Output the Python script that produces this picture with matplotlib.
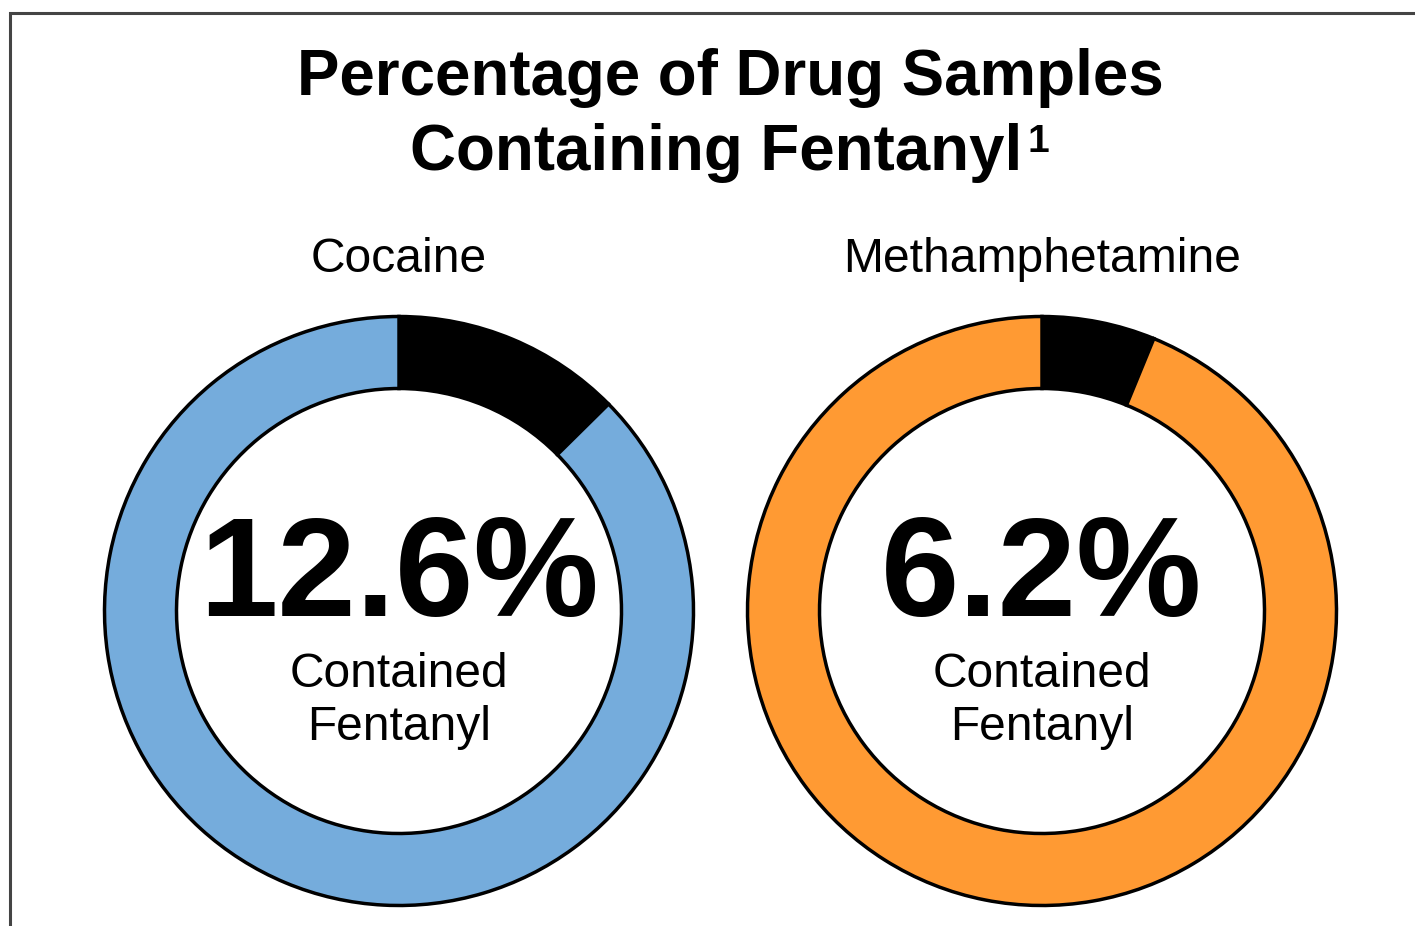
import matplotlib
matplotlib.use("Agg")
import matplotlib.pyplot as plt
from matplotlib.patches import Rectangle

plt.rcParams["font.family"] = ["Liberation Sans", "DejaVu Sans"]

# share of samples that contained fentanyl (%)
drugs = ["Cocaine", "Methamphetamine"]
pct_fentanyl = [12.6, 6.2]
ring_colors = ["#75acdc", "#ff9a33"]
pct_labels = ["12.6%", "6.2%"]

W, H = 1415, 926
fig = plt.figure(figsize=(W / 100, H / 100), dpi=100)
ax = fig.add_axes([0, 0, 1, 1])

centers_x = [399, 1042]
cy = H - 611
r_out, ring_w = 294.5, 72

for drug, p, col, lab, cx in zip(drugs, pct_fentanyl, ring_colors, pct_labels, centers_x):
    ax.pie([p, 100 - p], colors=["black", col], startangle=90, counterclock=False,
           center=(cx, cy), radius=r_out,
           wedgeprops=dict(width=ring_w, edgecolor="black", linewidth=2.5))
    ax.text(cx, H - 272, drug, ha="center", va="baseline", fontsize=34.6)
    ax.text(cx, H - 616, lab, ha="center", va="baseline", fontsize=101.5, fontweight="bold")
    ax.text(cx, H - 687, "Contained", ha="center", va="baseline", fontsize=34.5)
    ax.text(cx, H - 740, "Fentanyl", ha="center", va="baseline", fontsize=34.5)

ax.text(730, H - 95, "Percentage of Drug Samples", ha="center", va="baseline",
        fontsize=45.8, fontweight="bold")
ax.text(1022, H - 170, "Containing Fentanyl", ha="right", va="baseline",
        fontsize=45.8, fontweight="bold")
ax.text(1027, H - 152, "1", ha="left", va="baseline", fontsize=28, fontweight="bold")

ax.set_xlim(0, W)
ax.set_ylim(0, H)
ax.set_aspect("equal")
ax.axis("off")

# frame of the source slide, cut off at the right and bottom
fig.patches.append(Rectangle((10, -50), W + 50, H - 13 + 50, transform=None,
                             fill=False, edgecolor="#444444", linewidth=2.2))

fig.savefig("out.png", dpi=100)
